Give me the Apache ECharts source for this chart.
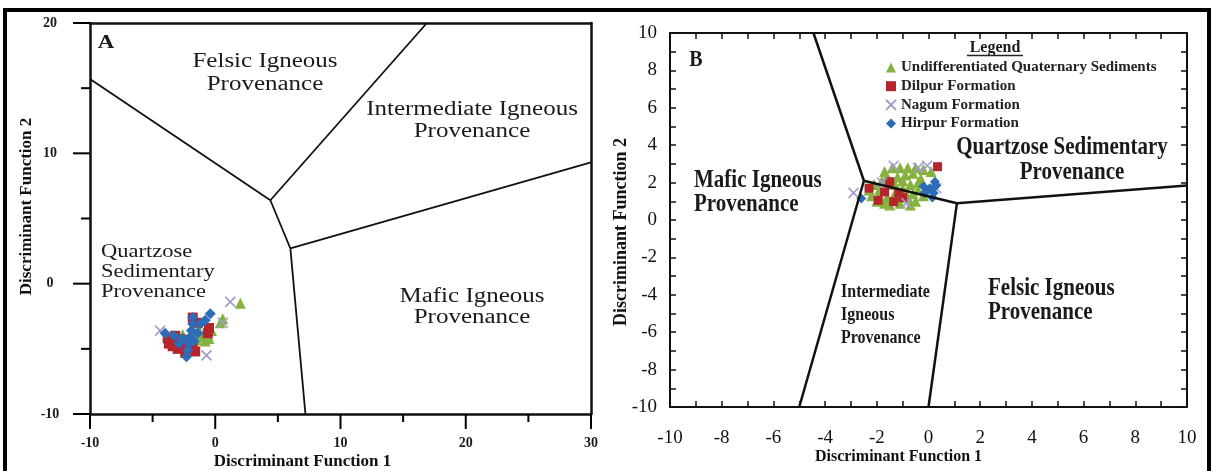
<!DOCTYPE html>
<html>
<head>
<meta charset="utf-8">
<script src="https://cdn.jsdelivr.net/npm/echarts@6/dist/echarts.min.js"></script>
<style>
  html, body { margin: 0; padding: 0; background: #fff; }
  #chart { width: 1212px; height: 471px; }
</style>
</head>
<body>
<div id="chart"></div>
<script>
// Series names
const seriesNames = [
  'Undifferentiated Quaternary Sediments',
  'Dilpur Formation',
  'Nagum Formation',
  'Hirpur Formation'
];

// Panel A: Discriminant Function 1 / 2 scores
const undiffA = [[2.0,-1.5],[0.6,-2.7],[0.4,-3.0],[-0.3,-3.6],[-0.6,-3.9],[-1.0,-4.1],[-1.2,-3.8],
  [-0.8,-4.4],[-1.5,-4.3],[-2.6,-3.9],[-1.4,-3.6],[-0.5,-4.2]];
const dilpurA = [[-0.5,-3.4],[-0.6,-3.8],[-1.6,-5.2],[-2.1,-5.0],[-3.0,-5.0],[-3.4,-4.8],[-3.7,-4.6],
  [-3.8,-4.2],[-2.6,-4.7],[-2.2,-4.3],[-1.8,-4.9],[-2.9,-4.4],[-2.4,-5.3],[-1.8,-2.6],[-1.4,-3.0],[-3.2,-4.0]];
const nagumA = [[1.2,-1.4],[0.6,-3.0],[-0.7,-5.5],[-4.4,-3.6]];
const hirpurA = [[-0.4,-2.3],[-0.8,-2.8],[-1.2,-3.1],[-1.8,-2.6],[-1.8,-3.1],[-1.9,-3.6],[-2.0,-4.1],
  [-2.1,-4.6],[-2.2,-5.1],[-2.3,-5.6],[-2.6,-4.2],[-3.3,-4.0],[-4.0,-3.8],[-2.9,-4.6],[-1.7,-4.4],[-1.4,-3.8]];

// Panel B: Discriminant Function 1 / 2 scores
const undiffB = [[-2.2,1.3],[-2.0,1.0],[-1.9,1.6],[-1.8,2.1],[-1.7,2.6],[-1.6,1.2],[-1.5,0.8],[-1.5,1.9],
  [-1.4,2.8],[-1.3,1.4],[-1.2,2.3],[-1.1,0.9],[-1.1,2.8],[-1.0,1.7],[-0.9,2.4],[-0.8,1.2],[-0.8,2.8],
  [-0.7,1.9],[-0.6,2.5],[-0.5,1.0],[-0.5,2.8],[-0.4,1.6],[-0.3,2.2],[-0.2,2.7],[-0.2,1.3],[-1.7,0.9],
  [-2.1,1.9],[-1.3,1.9],[-0.9,1.4],[-0.6,1.4],[-1.9,1.3],[-2.3,1.6],[-1.6,2.3],[-1.0,2.1],[-0.4,2.0],
  [-1.4,1.1],[-0.7,0.8],[0.1,2.6]];
const dilpurB = [[0.35,2.85],[-2.3,1.7],[-1.95,1.05],[-1.35,0.98],[-1.5,2.05],[-1.15,1.45],[-1.0,1.2],[-1.7,1.5]];
const nagumB = [[-2.9,1.45],[-0.05,2.9],[-1.35,2.9],[-0.85,0.9],[-0.4,2.8],[-1.8,2.0],[0.3,1.7]];
const hirpurB = [[-2.6,1.15],[0.25,2.05],[0.05,1.7],[-0.15,1.45],[0.2,1.45],[-0.2,1.8],[0.15,1.2],[-0.05,1.55],[0.3,1.85]];

// Field boundaries, panel A
const boundariesA = [
  [[-10,15.7],[4.4,6.4]],
  [[4.4,6.4],[16.9,20]],
  [[4.4,6.4],[6.0,2.7],[6.3,-0.5],[7.2,-10]],
  [[6.0,2.7],[30,9.3]]
];
// Field boundaries, panel B
const boundariesB = [
  [[-4.45,10],[-2.5,2.1]],
  [[-2.5,2.1],[1.1,0.9]],
  [[1.1,0.9],[10,1.85]],
  [[1.1,0.9],[0,-10]],
  [[-2.5,2.1],[-5,-10]]
];

// Axis ranges and panel A tick positions (long ticks at labelled values)
const rangeA = { xMin: -10, xMax: 30, yMin: -10, yMax: 20 };
const rangeB = { xMin: -10, xMax: 10, yMin: -10, yMax: 10 };
const ticksAX = [-10, -5, 0, 5, 10, 15, 20, 25, 30];
const ticksAY = [-10, -5, 0, 5, 10, 15, 20];

const SERIF = '"Liberation Serif", "Times New Roman", serif';
const colors = ['#86b23f', '#b5262c', '#a29bcb', '#2d6cb8'];
const symbols = ['triangle', 'rect', 'path://M0,0L10,10M10,0L0,10', 'diamond'];

const AX_A = 0, AY_A = 0;
const AX_B = 2, AY_B = 2;

const chart = echarts.init(document.getElementById('chart'), null, { renderer: 'canvas' });

function pointSeries(idx, data, xi, yi, sizes) {
  const isCross = idx === 2;
  return {
    type: 'scatter',
    name: seriesNames[idx],
    xAxisIndex: xi,
    yAxisIndex: yi,
    data: data,
    symbol: symbols[idx],
    symbolSize: sizes[idx],
    z: 2,
    itemStyle: isCross
      ? { color: colors[idx], borderColor: colors[idx], borderWidth: 1.6, opacity: 1 }
      : { color: colors[idx], opacity: 1 },
    emphasis: { disabled: true }
  };
}

function lineSeries(data, xi, yi, width) {
  return {
    type: 'line',
    xAxisIndex: xi,
    yAxisIndex: yi,
    data: data,
    symbol: 'none',
    silent: true,
    z: 4,
    lineStyle: { color: '#111', width: width },
    emphasis: { disabled: true }
  };
}

const blackLine = (w) => ({ show: true, onZero: false, lineStyle: { color: '#111', width: w } });
const tickStyle = (len) => ({ show: true, inside: true, length: len, lineStyle: { color: '#111', width: 1.5 } });

const series = [];
const sizesA = [11, 10, 10, 11];
const sizesB = [11, 9, 10, 10];
series.push(pointSeries(0, undiffA, AX_A, AY_A, sizesA));
series.push(pointSeries(1, dilpurA, AX_A, AY_A, sizesA));
series.push(pointSeries(2, nagumA, AX_A, AY_A, sizesA));
series.push(pointSeries(3, hirpurA, AX_A, AY_A, sizesA));
series.push(pointSeries(0, undiffB, AX_B, AY_B, sizesB));
series.push(pointSeries(1, dilpurB, AX_B, AY_B, sizesB));
series.push(pointSeries(2, nagumB, AX_B, AY_B, sizesB));
series.push(pointSeries(3, hirpurB, AX_B, AY_B, sizesB));
boundariesA.forEach(b => series.push(lineSeries(b, AX_A, AY_A, 1.8)));
boundariesB.forEach(b => series.push(lineSeries(b, AX_B, AY_B, 2.5)));

function regionText(x, y, text, opts) {
  return {
    type: 'text',
    x: x, y: y,
    scaleX: opts.sx || 1,
    scaleY: opts.sy || 1,
    silent: true,
    style: {
      text: text,
      fontFamily: SERIF,
      fontSize: opts.size,
      fontWeight: opts.bold ? 'bold' : 'normal',
      fill: opts.fill || '#1a1a1a',
      align: opts.align || 'center',
      verticalAlign: 'middle',
      lineHeight: opts.lh || opts.size
    }
  };
}

const gridBase = { outerBoundsMode: 'none', containLabel: false };

const staticGraphics = [
  // outer frame
  {
    type: 'rect', silent: true, z: 100,
    shape: { x: 5, y: 10, width: 1204, height: 500 },
    style: { fill: 'none', stroke: '#000', lineWidth: 4 }
  },
  // panel A field names
  regionText(106, 43, 'A', { size: 19, bold: true, sx: 1.2 }),
  regionText(265, 73.5, 'Felsic Igneous\nProvenance', { size: 20, sx: 1.25, lh: 23 }),
  regionText(472, 121, 'Intermediate Igneous\nProvenance', { size: 20, sx: 1.25, lh: 22 }),
  regionText(101, 272, 'Quartzose\nSedimentary\nProvenance', { size: 18, sx: 1.25, lh: 20, align: 'left' }),
  regionText(472, 307.5, 'Mafic Igneous\nProvenance', { size: 20, sx: 1.25, lh: 21 }),
  // panel B field names
  regionText(696, 60, 'B', { size: 20, bold: true, sy: 1.15 }),
  regionText(1062, 147, 'Quartzose Sedimentary', { size: 21, bold: true, sy: 1.2 }),
  regionText(1072, 172, 'Provenance', { size: 21, bold: true, sy: 1.2 }),
  regionText(694, 192.5, 'Mafic Igneous\nProvenance', { size: 21, bold: true, sy: 1.2, lh: 20.8, align: 'left' }),
  regionText(988, 300.5, 'Felsic Igneous\nProvenance', { size: 21, bold: true, sy: 1.2, lh: 20.8, align: 'left' }),
  regionText(841, 315, 'Intermediate\nIgneous\nProvenance', { size: 16, bold: true, sy: 1.2, lh: 19.2, align: 'left' }),
  // legend heading
  regionText(995, 47, 'Legend', { size: 16, bold: true, sy: 1.1 }),
  {
    type: 'line', silent: true,
    shape: { x1: 967, y1: 55.5, x2: 1023, y2: 55.5 },
    style: { stroke: '#222', lineWidth: 1.5 }
  }
];

const option = {
  backgroundColor: '#ffffff',
  animation: false,
  grid: [
    Object.assign({}, gridBase, { left: 90, top: 23, width: 501, height: 391 }),
    Object.assign({}, gridBase, { left: 670, top: 33, width: 517, height: 374 })
  ],
  legend: {
    data: seriesNames,
    orient: 'vertical',
    left: 885,
    top: 60,
    padding: 0,
    itemWidth: 10,
    itemHeight: 10,
    itemGap: 3.7,
    selectedMode: false,
    textStyle: { fontFamily: SERIF, fontWeight: 'bold', fontSize: 15, color: '#222', lineHeight: 14 }
  },
  xAxis: [
    {
      gridIndex: 0, type: 'value', position: 'bottom',
      min: rangeA.xMin, max: rangeA.xMax, interval: 10,
      axisLine: blackLine(2.5),
      axisTick: { show: false },
      splitLine: { show: false },
      axisLabel: { margin: 22, fontFamily: SERIF, fontWeight: 'bold', fontSize: 14, color: '#1a1a1a' },
      name: 'Discriminant Function 1', nameLocation: 'middle', nameGap: 39, nameMoveOverlap: false,
      nameTextStyle: { fontFamily: SERIF, fontWeight: 'bold', fontSize: 17, color: '#111', padding: [0, 76, 0, 0] }
    },
    {
      gridIndex: 0, type: 'value', position: 'top',
      min: rangeA.xMin, max: rangeA.xMax, interval: 10,
      axisLine: blackLine(2.5), axisTick: { show: false }, axisLabel: { show: false },
      splitLine: { show: false }
    },
    {
      gridIndex: 1, type: 'value', position: 'bottom',
      min: rangeB.xMin, max: rangeB.xMax, interval: 1,
      axisLine: blackLine(2),
      axisTick: tickStyle(6),
      splitLine: { show: false },
      axisLabel: {
        margin: 22, fontFamily: SERIF, fontSize: 19, color: '#111',
        formatter: v => (v % 2 === 0 ? String(v) : '')
      },
      name: 'Discriminant Function 1', nameLocation: 'middle', nameGap: 42, nameMoveOverlap: false,
      nameTextStyle: { fontFamily: SERIF, fontWeight: 'bold', fontSize: 16, color: '#111', padding: [0, 60, 0, 0] }
    },
    {
      gridIndex: 1, type: 'value', position: 'top',
      min: rangeB.xMin, max: rangeB.xMax, interval: 1,
      axisLine: blackLine(2),
      axisTick: tickStyle(6),
      axisLabel: { show: false }, splitLine: { show: false }
    }
  ],
  yAxis: [
    {
      gridIndex: 0, type: 'value', position: 'left',
      min: rangeA.yMin, max: rangeA.yMax, interval: 10,
      axisLine: blackLine(2.5),
      axisTick: { show: false },
      splitLine: { show: false },
      axisLabel: { margin: 40, align: 'center', fontFamily: SERIF, fontWeight: 'bold', fontSize: 14, color: '#1a1a1a' },
      name: 'Discriminant Function 2', nameLocation: 'middle', nameGap: 55, nameMoveOverlap: false,
      nameTextStyle: { fontFamily: SERIF, fontWeight: 'bold', fontSize: 17, color: '#111', padding: [0, 0, 0, 24] }
    },
    {
      gridIndex: 0, type: 'value', position: 'right',
      min: rangeA.yMin, max: rangeA.yMax, interval: 10,
      axisLine: blackLine(2.5), axisTick: { show: false }, axisLabel: { show: false },
      splitLine: { show: false }
    },
    {
      gridIndex: 1, type: 'value', position: 'left',
      min: rangeB.yMin, max: rangeB.yMax, interval: 1,
      axisLine: blackLine(2),
      axisTick: tickStyle(6),
      splitLine: { show: false },
      axisLabel: {
        margin: 13, fontFamily: SERIF, fontSize: 19, color: '#111',
        formatter: v => (v % 2 === 0 ? String(v) : '')
      },
      name: 'Discriminant Function 2', nameLocation: 'middle', nameGap: 40, nameMoveOverlap: false,
      nameTextStyle: { fontFamily: SERIF, fontWeight: 'bold', fontSize: 18, color: '#111', padding: [0, 24, 0, 0] }
    },
    {
      gridIndex: 1, type: 'value', position: 'right',
      min: rangeB.yMin, max: rangeB.yMax, interval: 1,
      axisLine: blackLine(2),
      axisTick: tickStyle(6),
      axisLabel: { show: false }, splitLine: { show: false }
    }
  ],
  graphic: staticGraphics,
  series: series
};

chart.setOption(option);

// Outward tick marks of panel A: positions come from the panel's axes
// once the layout is known.
const tickGraphics = [];
ticksAX.forEach(v => {
  const p = chart.convertToPixel({ xAxisIndex: AX_A, yAxisIndex: AY_A }, [v, rangeA.yMin]);
  const len = v % 10 === 0 ? 15 : 8;
  tickGraphics.push({
    type: 'line', silent: true, z: 50,
    shape: { x1: p[0], y1: p[1], x2: p[0], y2: p[1] + len },
    style: { stroke: '#000', lineWidth: 2 }
  });
});
ticksAY.forEach(v => {
  const p = chart.convertToPixel({ xAxisIndex: AX_A, yAxisIndex: AY_A }, [rangeA.xMin, v]);
  const len = v % 10 === 0 ? 17 : 9;
  tickGraphics.push({
    type: 'line', silent: true, z: 50,
    shape: { x1: p[0], y1: p[1], x2: p[0] - len, y2: p[1] },
    style: { stroke: '#000', lineWidth: 2 }
  });
});
chart.setOption({ graphic: staticGraphics.concat(tickGraphics) });
</script>
</body>
</html>
